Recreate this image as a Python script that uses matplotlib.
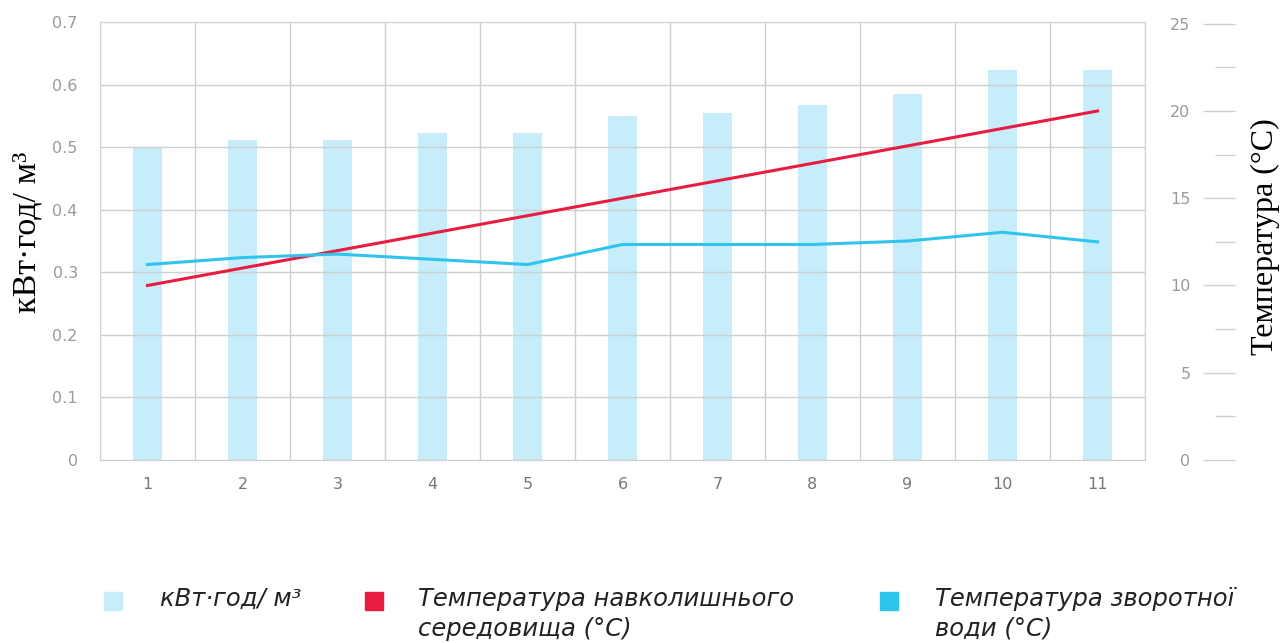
import matplotlib.pyplot as plt
import numpy as np
from matplotlib.patches import Rectangle

# data
months = ["1", "2", "3", "4", "5", "6", "7", "8", "9", "10", "11"]
energy = [0.50, 0.511, 0.511, 0.522, 0.522, 0.55, 0.555, 0.568, 0.585, 0.623, 0.623]
t_ambient = [10, 11, 12, 13, 14, 15, 16, 17, 18, 19, 20]
t_return = [11.2, 11.6, 11.8, 11.5, 11.2, 12.35, 12.35, 12.35, 12.55, 13.05, 12.5]

left_ticks = [0, 0.1, 0.2, 0.3, 0.4, 0.5, 0.6, 0.7]
left_labels = ["0", "0.1", "0.2", "0.3", "0.4", "0.5", "0.6", "0.7"]
right_ticks = [0, 5, 10, 15, 20, 25]

c_bar = "#c6edf9"
c_red = "#e81c40"
c_blue = "#2fc4ee"
c_grid = "#cfcfcf"
c_tick = "#9a9a9a"

W, H = 1284, 643
fig = plt.figure(figsize=(W / 100, H / 100), dpi=100)
ax = fig.add_axes([100 / W, 1 - 460 / H, 1045 / W, 438 / H])

x = np.arange(len(months))
ax.bar(x, energy, width=0.3, color=c_bar, zorder=1)
ax.set_xlim(-0.5, len(months) - 0.5)
ax.set_ylim(0, 0.7)
ax.set_xticks(x)
ax.set_xticklabels(months)
ax.set_xticks(np.arange(-0.5, len(months)), minor=True)
ax.set_yticks(left_ticks)
ax.set_yticklabels(left_labels)
ax.grid(True, which="minor", axis="x", color=c_grid, lw=1, zorder=2)
ax.grid(True, which="major", axis="y", color=c_grid, lw=1, zorder=2)
ax.set_axisbelow(False)
ax.tick_params(axis="both", which="both", length=0, colors=c_tick, labelsize=11.5)
ax.tick_params(axis="y", pad=16)
ax.tick_params(axis="x", pad=12, labelcolor="#777777")
for s in ["left", "top"]:
    ax.spines[s].set_visible(False)
ax.spines["right"].set_color(c_grid)
ax.spines["bottom"].set_color(c_grid)
ax.set_ylabel("кВт·год/ м³", family="Liberation Serif", fontsize=24.5)
ax.yaxis.set_label_coords((42 - 100) / 1045, 0.52)

ax2 = ax.twinx()
ax2.plot(x, t_ambient, color=c_red, lw=2.2, zorder=5)
ax2.plot(x, t_return, color=c_blue, lw=2.2, zorder=5)
ax2.set_ylim(0, 25.1)
ax2.set_yticks(right_ticks)
ax2.set_yticks(np.arange(2.5, 25, 5), minor=True)
for s in ["left", "right", "top", "bottom"]:
    ax2.spines[s].set_visible(False)
ax2.spines["right"].set_position(("axes", (1235 - 100) / 1045))
ax2.tick_params(axis="y", which="major", direction="in", length=23, width=1,
                color=c_grid, labelcolor=c_tick, labelsize=11.5, pad=-32)
ax2.tick_params(axis="y", which="minor", direction="in", length=14.5, width=1,
                color=c_grid)
for lab in ax2.get_yticklabels():
    lab.set_horizontalalignment("right")
ax2.set_ylabel("Температура (°C)", family="Liberation Serif", fontsize=23)
ax2.yaxis.set_label_coords((1251 - 100) / 1045, 0.511)

# legend drawn by hand so the squares line up with the first text line
items = [
    (104, c_bar, 160, "кВт·год/ м³"),
    (365, c_red, 418, "Температура навколишнього\nсередовища (°C)"),
    (880, c_blue, 935, "Температура зворотної\nводи (°C)"),
]
for px, col, tx, txt in items:
    fig.patches.append(Rectangle((px / W, 1 - 610 / H), 18 / W, 18 / H,
                                 transform=fig.transFigure, color=col, figure=fig))
    fig.text(tx / W, 1 - 587 / H, txt, ha="left", va="top", fontsize=17.5,
             style="italic", color="#222222", linespacing=1.3,
             family=["DejaVu Sans"])

fig.savefig("out.png", dpi=100)
